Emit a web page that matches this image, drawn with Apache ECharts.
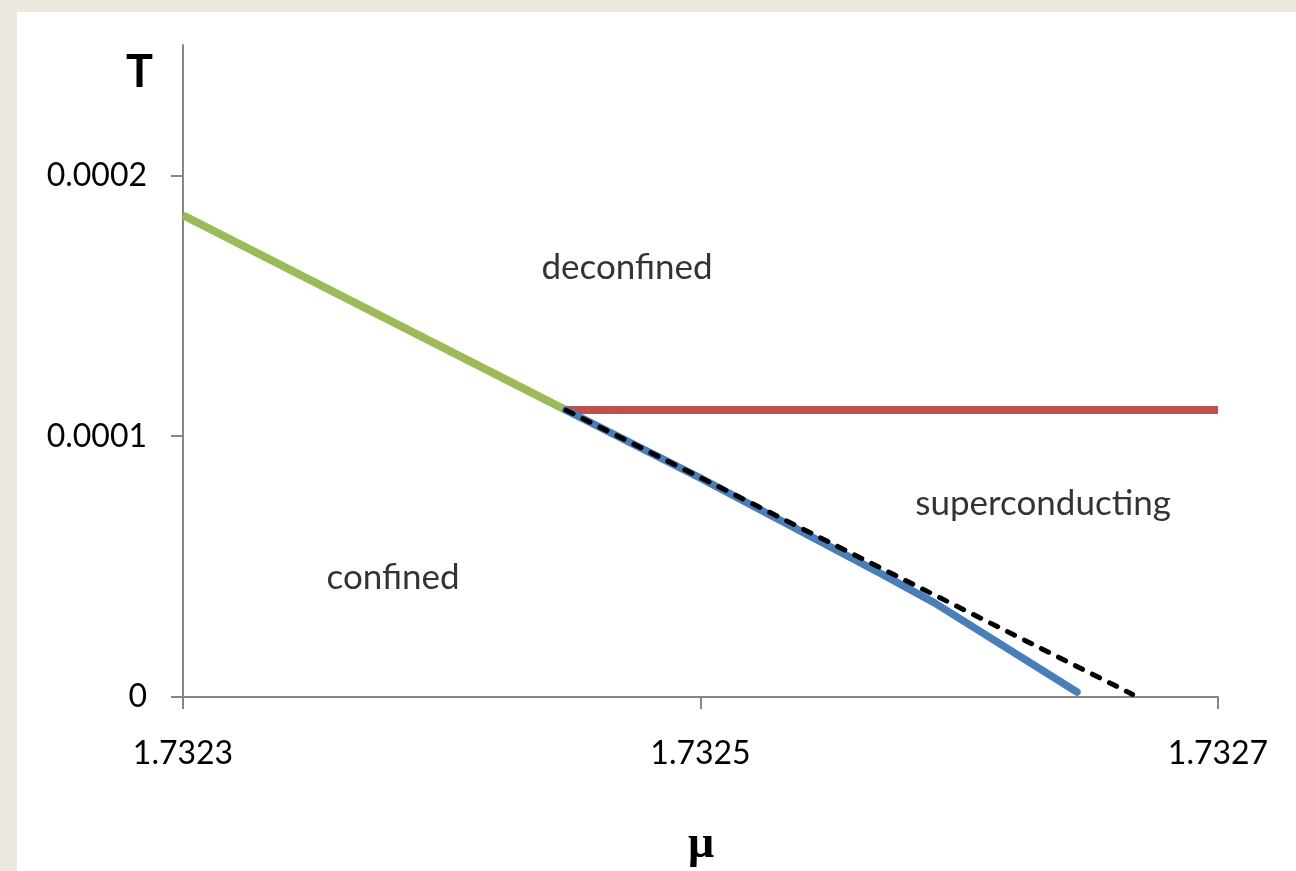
<!DOCTYPE html>
<html>
<head>
<meta charset="utf-8">
<script src="https://cdn.jsdelivr.net/npm/echarts@6/dist/echarts.min.js"></script>
<style>
  html, body { margin: 0; padding: 0; width: 1296px; height: 871px; overflow: hidden; background: #ebe9df; }
  #panel { position: absolute; left: 17px; top: 12px; width: 1279px; height: 859px; background: #ffffff; }
  #chart { position: absolute; left: 0; top: 0; width: 1296px; height: 871px; }
</style>
</head>
<body>
<div id="panel"></div>
<div id="chart"></div>
<script>
// Data
const xTicks = [1.7323, 1.7325, 1.7327];
const yTicks = [0, 0.0001, 0.0002];

const confinedDeconfinedMu = [1.7323, 1.732448];
const confinedDeconfinedT  = [0.0001847, 0.000110];

const deconfinedSuperMu = [1.732448, 1.7327];
const deconfinedSuperT  = [0.000110, 0.000110];

const confinedSuperMu = [1.732448, 1.7325, 1.7325694, 1.7325906, 1.7326455];
const confinedSuperT  = [0.000110, 0.0000839, 0.0000475, 0.0000360, 0.0000019];

const approxMu = [1.732448, 1.732667];
const approxT  = [0.000110, 0.0000010];

const regionNames = ['deconfined', 'superconducting', 'confined'];
const regionMu = [1.7324716, 1.7326324, 1.7323812];
const regionT  = [0.00016475, 0.0000743, 0.0000456];

const pairs = (xs, ys) => xs.map((x, i) => [x, ys[i]]);

const FONT = 'Lato';
const chart = echarts.init(document.getElementById('chart'), null, { renderer: 'canvas' });

const axisColor = '#868686';

chart.setOption({
  backgroundColor: 'transparent',
  animation: false,
  grid: { left: 183, right: 78, top: 45, bottom: 174, containLabel: false },
  xAxis: {
    type: 'value',
    min: 1.7323,
    max: 1.7327,
    splitLine: { show: false },
    axisLine: { show: true, lineStyle: { color: axisColor, width: 2 } },
    axisTick: { show: true, length: 12, inside: false, customValues: xTicks, lineStyle: { color: axisColor, width: 2 } },
    axisLabel: {
      customValues: xTicks,
      margin: 41,
      fontFamily: FONT, fontSize: 32, color: '#000',
      formatter: v => v.toFixed(4)
    }
  },
  yAxis: {
    type: 'value',
    min: 0,
    max: 0.00025,
    splitLine: { show: false },
    axisLine: { show: true, lineStyle: { color: axisColor, width: 2 } },
    axisTick: { show: true, length: 12, inside: false, customValues: yTicks, lineStyle: { color: axisColor, width: 2 } },
    axisLabel: {
      customValues: yTicks,
      margin: 36,
      fontFamily: FONT, fontSize: 32, color: '#000',
      formatter: v => (v === 0 ? '0' : v.toFixed(4))
    }
  },
  graphic: [
    { type: 'text', x: 139.5, y: 72, style: { text: 'T', font: 'bold 45px ' + FONT, fill: '#000', align: 'center', verticalAlign: 'middle' } },
    { type: 'text', x: 701, y: 845, style: { text: 'μ', font: 'bold 46px "Liberation Serif"', fill: '#000', align: 'center', verticalAlign: 'middle' } }
  ],
  series: [
    {
      type: 'line', data: pairs(confinedDeconfinedMu, confinedDeconfinedT),
      showSymbol: false, lineStyle: { color: '#9bbb59', width: 8 }
    },
    {
      type: 'line', data: pairs(deconfinedSuperMu, deconfinedSuperT),
      showSymbol: false, lineStyle: { color: '#c0504d', width: 8 }
    },
    {
      type: 'line', data: pairs(confinedSuperMu, confinedSuperT),
      showSymbol: false, lineStyle: { color: '#4a7ebb', width: 7.5, cap: 'round', join: 'round' }
    },
    {
      type: 'line', data: pairs(approxMu, approxT),
      showSymbol: false, lineStyle: { color: '#000', width: 5, type: [8, 11], cap: 'round' }
    },
    {
      type: 'scatter',
      data: regionNames.map((n, i) => ({ name: n, value: [regionMu[i], regionT[i]] })),
      symbolSize: 0,
      label: {
        show: true, position: 'inside', formatter: p => p.name,
        fontFamily: FONT, fontSize: 35, color: '#000'
      },
      silent: true
    }
  ]
});
</script>
</body>
</html>
